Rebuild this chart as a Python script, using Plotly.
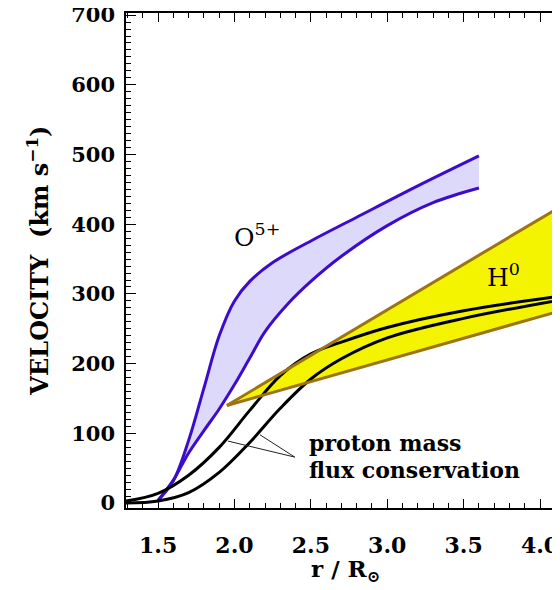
import plotly.graph_objects as go

# O5+ band (upper / lower edges)
o5_up_x = [1.50, 1.60, 1.70, 1.80, 1.90, 2.00, 2.10, 2.25, 2.50, 2.80, 3.20, 3.60]
o5_up_y = [4, 32, 90, 165, 240, 290, 318, 345, 376, 410, 455, 498]
o5_lo_x = [1.50, 1.60, 1.70, 1.80, 1.90, 2.00, 2.10, 2.20, 2.35, 2.50, 2.70, 3.00, 3.30, 3.60]
o5_lo_y = [4, 33, 72, 104, 135, 170, 208, 246, 286, 318, 354, 398, 431, 452]

# proton mass flux conservation curves
pm_x = [1.29, 1.50, 1.70, 1.90, 2.10, 2.30, 2.50, 2.70, 3.00, 3.50, 4.20]
pm1_y = [3, 14, 40, 80, 133, 183, 214, 231, 252, 276, 299]
pm2_y = [0, 3, 15, 44, 87, 136, 178, 207, 237, 265, 294]

# H0 band
h0_x = [1.95, 4.20]
h0_up_y = [140, 434]
h0_lo_y = [140, 280]

# tick labels
xticks = [1.5, 2.0, 2.5, 3.0, 3.5, 4.0]
xticklabels = ["1.5", "2.0", "2.5", "3.0", "3.5", "4.0"]
yticks = [0, 100, 200, 300, 400, 500, 600, 700]

BLUE = "#3c0ccc"
LAV = "#dcd9fa"
YEL = "#f4f400"
BROWN = "#9c7414"
FONT = "DejaVu Serif"

fig = go.Figure()

# O5+ band
fig.add_trace(go.Scatter(x=o5_lo_x, y=o5_lo_y, mode="lines",
                         line=dict(color=BLUE, width=3, shape="spline")))
fig.add_trace(go.Scatter(x=o5_up_x, y=o5_up_y, mode="lines", fill="tonexty", fillcolor=LAV,
                         line=dict(color=BLUE, width=3, shape="spline")))

# H0 band fill
fig.add_trace(go.Scatter(x=h0_x, y=h0_lo_y, mode="lines", line=dict(width=0, color=YEL)))
fig.add_trace(go.Scatter(x=h0_x, y=h0_up_y, mode="lines", fill="tonexty", fillcolor=YEL,
                         line=dict(width=0, color=YEL)))

# proton curves
fig.add_trace(go.Scatter(x=pm_x, y=pm1_y, mode="lines",
                         line=dict(color="black", width=3, shape="spline")))
fig.add_trace(go.Scatter(x=pm_x, y=pm2_y, mode="lines",
                         line=dict(color="black", width=3, shape="spline")))

# H0 edges
fig.add_trace(go.Scatter(x=h0_x, y=h0_up_y, mode="lines", line=dict(color=BROWN, width=3)))
fig.add_trace(go.Scatter(x=h0_x, y=h0_lo_y, mode="lines", line=dict(color=BROWN, width=3)))

# pointer lines
fig.add_shape(type="line", x0=2.395, y0=66, x1=1.957, y1=89, line=dict(color="#222", width=1))
fig.add_shape(type="line", x0=2.395, y0=66, x1=2.167, y1=98, line=dict(color="#222", width=1))

fig.add_annotation(x=2.474, y=86, text="proton mass", showarrow=False, xanchor="left",
                   font=dict(family=FONT, size=22, color="black", weight="bold"))
fig.add_annotation(x=2.474, y=47, text="flux conservation", showarrow=False, xanchor="left",
                   font=dict(family=FONT, size=22, color="black", weight="bold"))
fig.add_annotation(x=2.15, y=384, text="O<sup>5+</sup>", showarrow=False,
                   font=dict(family=FONT, size=25, color="black"))
fig.add_annotation(x=3.76, y=326, text="H<sup>0</sup>", showarrow=False,
                   font=dict(family=FONT, size=25, color="black"))

# axis titles
fig.add_annotation(xref="paper", yref="paper", x=-0.201, y=0.5, textangle=-90,
                   xanchor="center", yanchor="middle",
                   text="VELOCITY\u00a0\u00a0(km\u00a0s<sup>\u22121</sup>)", showarrow=False,
                   font=dict(family=FONT, size=24, color="black", weight="bold"))
fig.add_annotation(xref="paper", yref="paper", x=0.496, y=-0.09, yanchor="top", xanchor="center",
                   text="r\u00a0/\u00a0R<sub>\u2299</sub>", showarrow=False,
                   font=dict(family=FONT, size=23, color="black", weight="bold"))

# page body adds an 8px offset, so margins are reduced to compensate
fig.update_layout(
    width=560, height=590,
    margin=dict(l=118, r=0, t=5, b=90),
    paper_bgcolor="white", plot_bgcolor="white",
    showlegend=False,
    font=dict(family=FONT, size=22, color="black"),
)
fig.update_xaxes(range=[1.29, 4.183], tickvals=xticks, ticktext=xticklabels,
                 ticks="inside", ticklen=9, tickwidth=1.2, tickcolor="black",
                 minor=dict(ticks="inside", ticklen=5, dtick=0.1, tick0=1.0, tickcolor="black", tickwidth=1),
                 showline=True, linecolor="black", linewidth=1.5, mirror="ticks",
                 showgrid=False, zeroline=False, automargin=False, ticklabeloverflow="allow",
                 tickfont=dict(family=FONT, size=22, weight="bold"), ticklabelstandoff=17)
fig.update_yaxes(range=[-7, 703], tickvals=yticks,
                 ticks="inside", ticklen=10, tickwidth=1.2, tickcolor="black",
                 minor=dict(ticks="inside", ticklen=5, dtick=10, tick0=0, tickcolor="black", tickwidth=1),
                 showline=True, linecolor="black", linewidth=1.5, mirror=False,
                 showgrid=False, zeroline=False, automargin=False, ticklabeloverflow="allow",
                 tickfont=dict(family=FONT, size=21, weight="bold"), ticklabelstandoff=5)

fig.write_html("out.html")
